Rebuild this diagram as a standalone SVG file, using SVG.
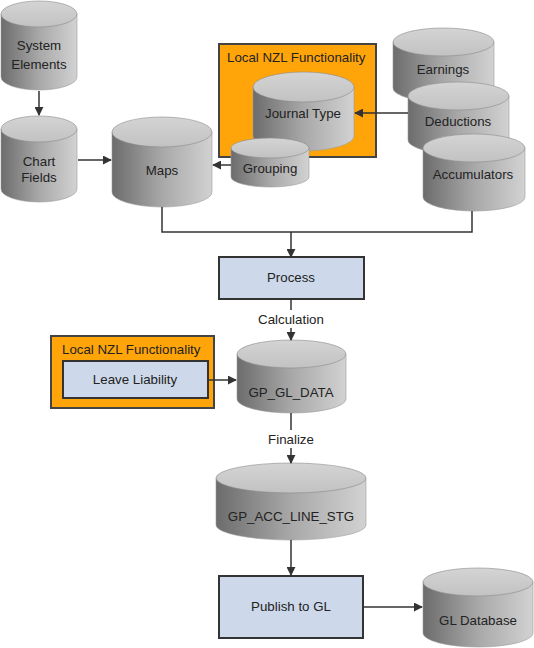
<svg xmlns="http://www.w3.org/2000/svg" width="534" height="648" viewBox="0 0 534 648">
<defs>
<linearGradient id="body" x1="0" y1="0" x2="1" y2="0">
<stop offset="0" stop-color="#6c6c6c"/>
<stop offset="0.5" stop-color="#a8a8a8"/>
<stop offset="1" stop-color="#d2d2d2"/>
</linearGradient>
<linearGradient id="top" x1="0" y1="0" x2="0" y2="1">
<stop offset="0" stop-color="#d4d4d4"/>
<stop offset="1" stop-color="#c2c2c2"/>
</linearGradient>
<marker id="arr" viewBox="0 0 10 10" refX="9" refY="5" markerWidth="9" markerHeight="9" markerUnits="userSpaceOnUse" orient="auto">
<path d="M0,0 L10,5 L0,10 Z" fill="#333"/>
</marker>
</defs>
<style>
.body{fill:url(#body);stroke:#9a9a9a;stroke-width:0.6}
.top{fill:url(#top);stroke:#8c8c8c;stroke-width:0.6}
.t{font-family:"Liberation Sans",Arial,sans-serif;font-size:13.3px;fill:#222;text-anchor:middle}
.tl{font-family:"Liberation Sans",Arial,sans-serif;font-size:13.3px;fill:#222}
.orange{fill:#ffa50a;stroke:#444;stroke-width:2}
.blue{fill:#cdd9ea;stroke:#333;stroke-width:2}
.c{fill:none;stroke:#333;stroke-width:1.5}
.a{fill:none;stroke:#333;stroke-width:1.5;marker-end:url(#arr)}
</style>
<rect width="534" height="648" fill="#fff"/>

<g id="localNZL1">
<rect class="orange" x="219" y="44" width="157" height="113"/>
<text class="tl" x="227" y="62">Local NZL Functionality</text>
</g>

<g id="systemElements">
<path class="body" d="M1,14 L1,77 A38,13 0 0 0 77,77 L77,14 Z"/>
<ellipse class="top" cx="39" cy="14" rx="38" ry="13"/>
<text class="t" x="39" y="50">System</text>
<text class="t" x="39" y="69">Elements</text>
</g>

<g id="chartFields">
<path class="body" d="M1,129 L1,189 A38,13 0 0 0 77,189 L77,129 Z"/>
<ellipse class="top" cx="39" cy="129" rx="38" ry="13"/>
<text class="t" x="39" y="166">Chart</text>
<text class="t" x="39" y="182">Fields</text>
</g>

<g id="maps">
<path class="body" d="M112,132 L112,192 A50,15 0 0 0 212,192 L212,132 Z"/>
<ellipse class="top" cx="162" cy="132" rx="50" ry="15"/>
<text class="t" x="162" y="175">Maps</text>
</g>

<g id="journalType">
<path class="body" d="M253,87 L253,136 A50.5,15 0 0 0 354,136 L354,87 Z"/>
<ellipse class="top" cx="303.5" cy="87" rx="50.5" ry="15"/>
<text class="t" x="303" y="118">Journal Type</text>
</g>

<g id="grouping">
<path class="body" d="M231,148 L231,177 A39,10 0 0 0 309,177 L309,148 Z"/>
<ellipse class="top" cx="270" cy="148" rx="39" ry="10"/>
<text class="t" x="270" y="173">Grouping</text>
</g>

<g id="earnings">
<path class="body" d="M393,42 L393,88 A50.5,14 0 0 0 494,88 L494,42 Z"/>
<ellipse class="top" cx="443.5" cy="42" rx="50.5" ry="14"/>
<text class="t" x="443" y="74">Earnings</text>
</g>

<g id="deductions">
<path class="body" d="M408,96 L408,140 A50.5,14 0 0 0 509,140 L509,96 Z"/>
<ellipse class="top" cx="458.5" cy="96" rx="50.5" ry="14"/>
<text class="t" x="458" y="126">Deductions</text>
</g>

<g id="accumulators">
<path class="body" d="M423,148 L423,197 A51,14 0 0 0 525,197 L525,148 Z"/>
<ellipse class="top" cx="474" cy="148" rx="51" ry="14"/>
<text class="t" x="473" y="179">Accumulators</text>
</g>

<g id="process">
<rect class="blue" x="219" y="257" width="145" height="42"/>
<text class="t" x="291" y="282">Process</text>
</g>

<g id="localNZL2">
<rect class="orange" x="51" y="336" width="163" height="72"/>
<text class="tl" x="62" y="354">Local NZL Functionality</text>
</g>

<g id="leaveLiability">
<rect class="blue" x="63" y="361" width="145" height="37"/>
<text class="t" x="135" y="384">Leave Liability</text>
</g>

<g id="gpGlData">
<path class="body" d="M237,354 L237,399 A54.5,14 0 0 0 346,399 L346,354 Z"/>
<ellipse class="top" cx="291.5" cy="354" rx="54.5" ry="14"/>
<text class="t" x="291" y="397">GP_GL_DATA</text>
</g>

<g id="gpAccLineStg">
<path class="body" d="M216,478 L216,525 A75,15 0 0 0 366,525 L366,478 Z"/>
<ellipse class="top" cx="291" cy="478" rx="75" ry="15"/>
<text class="t" x="291" y="521">GP_ACC_LINE_STG</text>
</g>

<g id="publishToGL">
<rect class="blue" x="219" y="576" width="144" height="62"/>
<text class="t" x="291" y="611">Publish to GL</text>
</g>

<g id="glDatabase">
<path class="body" d="M423,582 L423,633 A55,14 0 0 0 533,633 L533,582 Z"/>
<ellipse class="top" cx="478" cy="582" rx="55" ry="14"/>
<text class="t" x="478" y="625">GL Database</text>
</g>

<g id="connectors">
<line class="a" x1="39" y1="91" x2="39" y2="115"/>
<line class="a" x1="78" y1="160" x2="111" y2="160"/>
<line class="a" x1="231" y1="165" x2="213" y2="165"/>
<line class="a" x1="408" y1="113" x2="355" y2="113"/>
<polyline class="c" points="162,207 162,232 472,232 472,211"/>
<line class="a" x1="291" y1="232" x2="291" y2="257"/>
<line class="c" x1="291" y1="299" x2="291" y2="310"/>
<line class="a" x1="291" y1="328" x2="291" y2="340"/>
<text class="t" x="291" y="324">Calculation</text>
<line class="a" x1="208" y1="380" x2="236" y2="380"/>
<line class="c" x1="291" y1="413" x2="291" y2="430"/>
<line class="a" x1="291" y1="448" x2="291" y2="463"/>
<text class="t" x="291" y="444">Finalize</text>
<line class="a" x1="291" y1="540" x2="291" y2="575"/>
<line class="a" x1="363" y1="607" x2="422" y2="607"/>
</g>
</svg>
